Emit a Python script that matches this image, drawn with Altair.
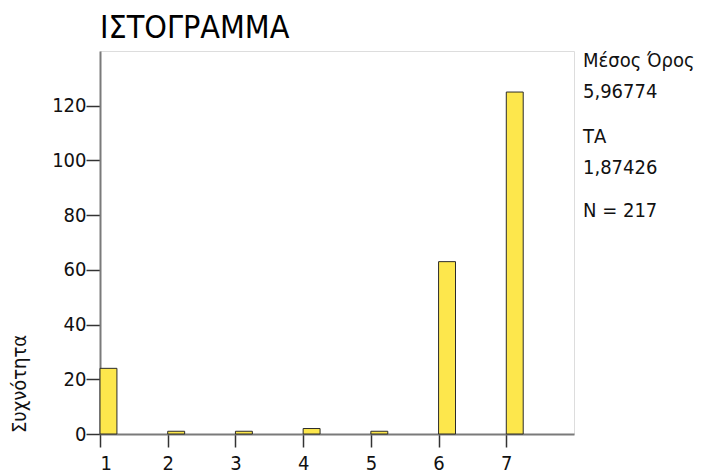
import altair as alt
import pandas as pd

categories = [1, 2, 3, 4, 5, 6, 7]
counts = [24, 1, 1, 2, 1, 63, 125]
bar_width = 0.25
x_ticks = [1, 2, 3, 4, 5, 6, 7]
y_ticks = [0, 20, 40, 60, 80, 100, 120]
title_text = "ΙΣΤΟΓΡΑΜΜΑ"
y_title = "Συχνότητα"
stats_lines = ["Μέσος Όρος", "5,96774", "ΤΑ", "1,87426", "N = 217"]
stats_y = [67, 98, 143, 174, 217]

FONT = "DejaVu Sans Condensed, DejaVu Sans, sans-serif"
W, H = 474, 383

df = pd.DataFrame({"x": categories, "x2": [c + bar_width for c in categories], "n": counts,
                   "base": [0] * len(categories)})

xscale = alt.Scale(domain=[1, 8], nice=False, zero=False)
yscale = alt.Scale(domain=[0, 140], nice=False)

bars = alt.Chart(df).mark_bar(fill="#FDE74C", stroke="#2b2b2b", strokeWidth=1).encode(
    x=alt.X("x:Q", scale=xscale, axis=alt.Axis(
        values=x_ticks, title=None, grid=False, domain=True, domainColor="#7a7a7a", domainWidth=2,
        tickSize=13, tickColor="#333333", tickWidth=1.5, labelPadding=6,
        labelFont=FONT, labelFontSize=20, labelColor="#111111", format="d")),
    x2="x2:Q",
    y=alt.Y("n:Q", scale=yscale, axis=alt.Axis(
        values=y_ticks, title=None, grid=False, domain=True, domainColor="#7a7a7a", domainWidth=2,
        tickSize=14, tickColor="#333333", tickWidth=1.5, labelPadding=0,
        labelFont=FONT, labelFontSize=20, labelColor="#111111", format="d")),
    y2="base:Q",
)

title = alt.Chart(pd.DataFrame({"t": [title_text]})).mark_text(
    align="left", baseline="alphabetic", font=FONT, fontSize=32, color="#000000"
).encode(text="t:N", x=alt.value(0), y=alt.value(-13))

ytitle = alt.Chart(pd.DataFrame({"t": [y_title]})).mark_text(
    align="left", baseline="middle", angle=270, font=FONT, fontSize=20, color="#111111"
).encode(text="t:N", x=alt.value(-80), y=alt.value(382))

stats = alt.Chart(pd.DataFrame({"t": stats_lines, "yy": stats_y})).mark_text(
    align="left", baseline="alphabetic", font=FONT, fontSize=20, color="#111111"
).encode(text="t:N", x=alt.value(483), y=alt.Y("yy:Q", scale=alt.Scale(domain=[51, 434], range=[0, H]), axis=None))

chart = alt.layer(bars, title, ytitle, stats).resolve_scale(y="independent").properties(
    width=W, height=H,
    autosize=alt.AutoSizeParams(type="none"),
    padding={"left": 100, "top": 51, "right": 131, "bottom": 39},
).configure_view(stroke="#7a7a7a", strokeWidth=2).configure(background="white")

chart.save("out.html", embed_options={"renderer": "svg", "actions": False})
